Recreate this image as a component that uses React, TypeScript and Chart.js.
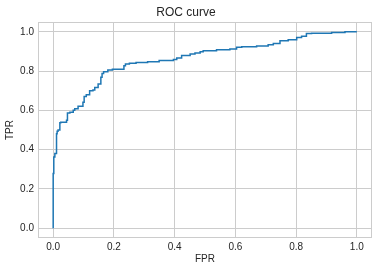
import React, { useEffect, useRef } from "react";
import { Chart, registerables } from "chart.js";

Chart.register(...registerables);

const fpr = [0, 0, 0.002, 0.0055, 0.011, 0.013, 0.016, 0.022, 0.025, 0.044, 0.047, 0.055, 0.066, 0.071, 0.082, 0.098, 0.102, 0.109, 0.12, 0.131, 0.137, 0.148, 0.157, 0.161, 0.166, 0.18, 0.195, 0.233, 0.238, 0.251, 0.273, 0.311, 0.349, 0.379, 0.396, 0.407, 0.423, 0.451, 0.467, 0.484, 0.494, 0.538, 0.582, 0.604, 0.621, 0.67, 0.708, 0.725, 0.747, 0.774, 0.802, 0.818, 0.834, 0.851, 0.917, 0.961, 0.966, 1.0];
const tpr = [0, 0.076, 0.278, 0.363, 0.38, 0.481, 0.494, 0.5, 0.537, 0.54, 0.55, 0.586, 0.59, 0.6, 0.608, 0.621, 0.641, 0.67, 0.68, 0.7, 0.704, 0.717, 0.734, 0.768, 0.788, 0.797, 0.805, 0.81, 0.827, 0.836, 0.84, 0.844, 0.847, 0.854, 0.854, 0.859, 0.867, 0.879, 0.887, 0.892, 0.899, 0.904, 0.909, 0.913, 0.921, 0.924, 0.928, 0.934, 0.941, 0.955, 0.96, 0.971, 0.978, 0.992, 0.993, 0.997, 1.0, 1.0];
const tickValues = [0, 0.2, 0.4, 0.6, 0.8, 1.0];
const titleText = "ROC curve";
const xLabel = "FPR";
const yLabel = "TPR";

const FONT = "'Liberation Sans', Arial, sans-serif";
const TEXT = "#262626";
const GRID = "#cccccc";

const framePlugin = {
  id: "frame",
  afterDatasetsDraw(chart: any) {
    const { ctx, chartArea } = chart;
    ctx.save();
    ctx.strokeStyle = GRID;
    ctx.lineWidth = 1;
    ctx.strokeRect(
      Math.round(chartArea.left) + 0.5,
      Math.round(chartArea.top) + 0.5,
      Math.round(chartArea.right - chartArea.left) - 1,
      Math.round(chartArea.bottom - chartArea.top) - 1
    );
    ctx.restore();
  },
};

export default function App() {
  const ref = useRef<HTMLCanvasElement | null>(null);
  useEffect(() => {
    if (!ref.current) return;
    const data = fpr.map((x, i) => ({ x, y: tpr[i] }));
    const chart = new Chart(ref.current, {
      type: "line",
      data: {
        datasets: [
          {
            data,
            borderColor: "#1f77b4",
            borderWidth: 1.5,
            pointRadius: 0,
            stepped: "after",
            fill: false,
          },
        ],
      },
      options: {
        animation: false,
        responsive: false,
        layout: { padding: { left: 0, right: 7, top: 0, bottom: 0 } },
        plugins: {
          legend: { display: false },
          tooltip: { enabled: false },
          title: {
            display: true,
            text: titleText,
            color: TEXT,
            font: { family: FONT, size: 12, weight: "normal" },
            padding: { top: 5, bottom: 2.6 },
          },
        },
        scales: {
          x: {
            type: "linear",
            min: -0.05,
            max: 1.05,
            afterBuildTicks: (s: any) => {
              s.ticks = tickValues.map((v) => ({ value: v }));
            },
            afterFit: (s: any) => {
              s.height = 33;
            },
            grid: { color: GRID, drawTicks: false },
            border: { display: false },
            ticks: {
              color: TEXT,
              font: { family: FONT, size: 10 },
              padding: 3,
              maxRotation: 0,
              callback: (v: any) => Number(v).toFixed(1),
            },
            title: {
              display: true,
              text: xLabel,
              color: TEXT,
              font: { family: FONT, size: 10 },
              padding: { top: 0, bottom: 6 },
            },
          },
          y: {
            type: "linear",
            min: -0.05,
            max: 1.05,
            afterBuildTicks: (s: any) => {
              s.ticks = tickValues.map((v) => ({ value: v }));
            },
            afterFit: (s: any) => {
              s.width = 38;
            },
            grid: { color: GRID, drawTicks: false },
            border: { display: false },
            ticks: {
              color: TEXT,
              font: { family: FONT, size: 10 },
              padding: 4,
              callback: (v: any) => Number(v).toFixed(1),
            },
            title: {
              display: true,
              text: yLabel,
              color: TEXT,
              font: { family: FONT, size: 10 },
              padding: { top: 4, bottom: 0 },
            },
          },
        },
      } as any,
      plugins: [framePlugin],
    });
    return () => chart.destroy();
  }, []);
  return (
    <div style={{ position: "fixed", left: 0, top: 0, width: 379, height: 271, background: "#fff" }}>
      <canvas ref={ref} width={379} height={271} style={{ width: 379, height: 271 }} />
    </div>
  );
}
